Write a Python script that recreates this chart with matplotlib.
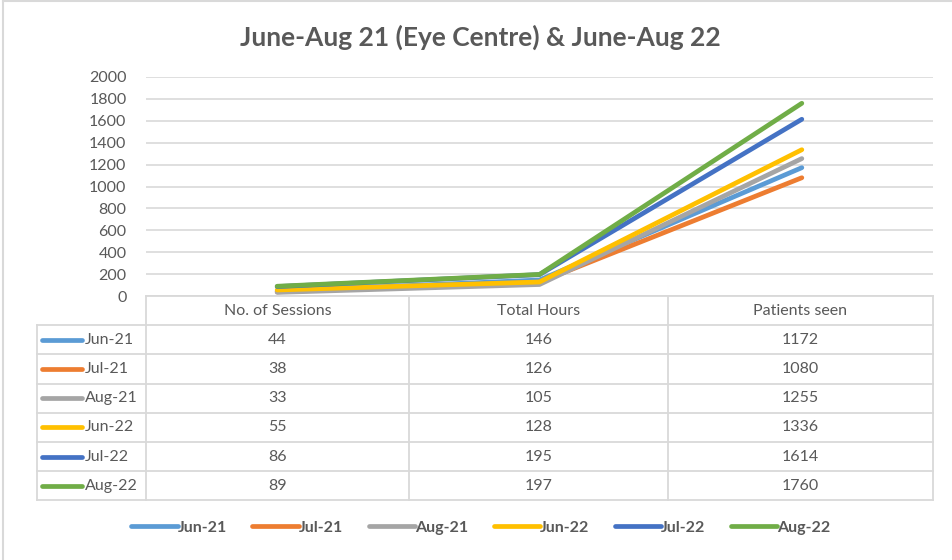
import matplotlib
matplotlib.use("Agg")
import matplotlib.pyplot as plt
from matplotlib.lines import Line2D

plt.rcParams['font.family'] = ['Lato', 'DejaVu Sans']

categories = ["No. of Sessions", "Total Hours", "Patients seen"]
series = ["Jun-21", "Jul-21", "Aug-21", "Jun-22", "Jul-22", "Aug-22"]
jun21 = [44, 146, 1172]
jul21 = [38, 126, 1080]
aug21 = [33, 105, 1255]
jun22 = [55, 128, 1336]
jul22 = [86, 195, 1614]
aug22 = [89, 197, 1760]
values = [jun21, jul21, aug21, jun22, jul22, aug22]
colors = ["#5b9bd5", "#ed7d31", "#a5a5a5", "#ffc000", "#4472c4", "#70ad47"]

W, H = 953, 560
fig = plt.figure(figsize=(W / 100, H / 100), dpi=100)

def fx(px):
    return px / W

def fy(py):
    return 1 - py / H

# plot area
left, right, top, bottom = 146, 933, 77, 296
ax = fig.add_axes([fx(left), fy(bottom), fx(right - left), fy(top) - fy(bottom)])
xs = [0.5, 1.5, 2.5]
for vals, c, name in zip(values, colors, series):
    ax.plot(xs, vals, color=c, lw=3.4, solid_capstyle="round", label=name, zorder=3)
ax.set_xlim(0, 3)
ax.set_ylim(0, 2000)
ax.set_yticks(range(0, 2001, 200))
ax.set_xticks([])
ax.grid(axis="y", color="#d9d9d9", lw=1.2)
ax.tick_params(axis="y", length=0, labelsize=11.5, labelcolor="#595959", pad=14)
for s in ax.spines.values():
    s.set_visible(False)

fig.text(fx(480), fy(37), "June-Aug 21 (Eye Centre) & June-Aug 22",
         ha="center", va="center", fontsize=19, fontweight="bold", color="#595959")

# data table
grid_c = "#d9d9d9"
col_x = [146, 409, 668, 933]
row_h = 29.2
head_top = 296
rows_top = head_top + row_h
tab_left = 37
bottom_y = rows_top + row_h * len(series)

def hline(x0, x1, y):
    fig.add_artist(Line2D([fx(x0), fx(x1)], [fy(y), fy(y)], color=grid_c, lw=1.3))

def vline(x, y0, y1):
    fig.add_artist(Line2D([fx(x), fx(x)], [fy(y0), fy(y1)], color=grid_c, lw=1.3))

hline(col_x[0], col_x[-1], head_top)
for i in range(len(series) + 1):
    hline(tab_left, col_x[-1], rows_top + i * row_h)
vline(tab_left, rows_top, bottom_y)
for x in col_x:
    vline(x, head_top, bottom_y)

for j, cat in enumerate(categories):
    fig.text(fx((col_x[j] + col_x[j + 1]) / 2), fy(head_top + row_h / 2), cat,
             ha="center", va="center", fontsize=11.5, color="#595959")

for i, (name, vals, c) in enumerate(zip(series, values, colors)):
    yc = rows_top + row_h * (i + 0.5)
    fig.add_artist(Line2D([fx(42), fx(82)], [fy(yc), fy(yc)], color=c, lw=3.4,
                          solid_capstyle="round"))
    fig.text(fx(85), fy(yc), name, ha="left", va="center", fontsize=11.5, color="#595959")
    for j, v in enumerate(vals):
        fig.text(fx((col_x[j] + col_x[j + 1]) / 2), fy(yc), str(v),
                 ha="center", va="center", fontsize=11.5, color="#595959")

# legend
handles = [Line2D([], [], color=c, lw=3.4, solid_capstyle="round") for c in colors]
leg = fig.legend(handles, series, loc="center", bbox_to_anchor=(fx(481), fy(528)),
                 ncol=6, frameon=False, handlelength=2.9, handletextpad=0.0,
                 columnspacing=1.6, prop={"size": 11.5, "weight": "bold"})
for t in leg.get_texts():
    t.set_color("#595959")

# outer frame lines
fig.add_artist(Line2D([fx(3), fx(3)], [fy(1), fy(560)], color=grid_c, lw=1.5))
fig.add_artist(Line2D([fx(3), fx(953)], [fy(1), fy(1)], color=grid_c, lw=1.5))

fig.savefig("out.png", dpi=100)
